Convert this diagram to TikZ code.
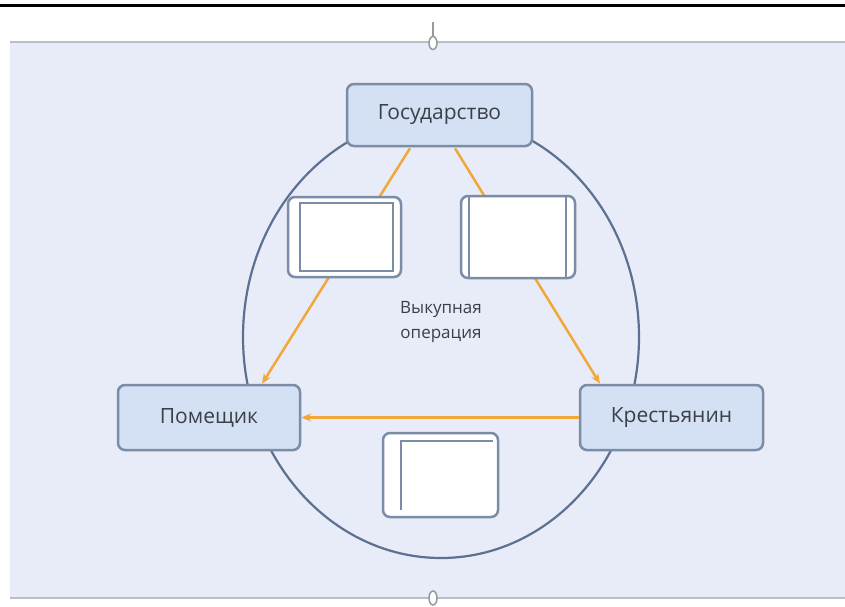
\documentclass[tikz,border=0pt]{standalone}
\usepackage{fontspec}
\setmainfont{Open Sans}
\usetikzlibrary{arrows.meta,shapes.geometric,calc}
\definecolor{bg}{HTML}{E7ECF8}
\definecolor{boxfill}{HTML}{D4E1F4}
\definecolor{boxline}{HTML}{7A8CA6}
\definecolor{ellline}{HTML}{5C7191}
\definecolor{arrcol}{HTML}{F0A83A}
\definecolor{panelline}{HTML}{B9BDC6}
\definecolor{txt}{HTML}{3A3F48}
\tikzset{
  mainbox/.style={draw=boxline, line width=2.5pt, fill=boxfill, rounded corners=7pt,
    text=txt, font=\fontsize{21}{24}\selectfont},
  smallbox/.style={draw=boxline, line width=2.5pt, fill=white, rounded corners=7pt},
  innerline/.style={draw=boxline, line width=2pt},
  arr/.style={draw=arrcol, line width=2.5pt, -{Stealth[length=10pt,width=8pt]}},
  handle/.style={draw=gray!80, line width=1.5pt, fill=white, ellipse, inner sep=0pt}
}
\begin{document}
\begin{tikzpicture}[x=1pt,y=-1pt]
\useasboundingbox (0,0) rectangle (845,606);
\fill[white] (0,0) rectangle (845,606);
\fill[bg] (10,42) rectangle (845,598);
\draw[line width=3pt] (0,5) -- (845,5);
\draw[panelline, line width=2.5pt] (10,42) -- (845,42);
\draw[panelline, line width=2.5pt] (10,598) -- (845,598);

% ellipse
\node[ellipse, draw=ellline, line width=2.2pt, minimum width=396pt, minimum height=442pt, inner sep=0pt] (ell) at (441,337) {};

% main boxes
\node[mainbox, minimum width=185pt, minimum height=62pt] (gos) at (439.5,115) {Государство};
\node[mainbox, minimum width=182pt, minimum height=65pt] (pom) at (209,417.5) {Помещик};
\node[mainbox, minimum width=183pt, minimum height=65pt] (kr) at (671.5,417.5) {Крестьянин};

% arrows
\coordinate (g1) at ($(gos.south)+(-29.5,1)$);
\coordinate (g2) at ($(gos.south)+(15.5,1)$);
\coordinate (p1) at ($(pom.north)+(53,0)$);
\coordinate (k1) at ($(kr.north)+(-71.5,0)$);
\draw[arr] (g1) -- (p1);
\draw[arr] (g2) -- (k1);
\draw[arr] (kr.west) -- (pom.east);

% small boxes
\node[smallbox, minimum width=113pt, minimum height=80pt] (sb1) at (344.5,237) {};
\draw[innerline] ($(sb1.north west)+(13,7)$) rectangle ($(sb1.south east)+(-9,-7)$);
\node[smallbox, minimum width=114pt, minimum height=82pt] (sb2) at (518,237) {};
\draw[innerline] ($(sb2.north west)+(9,2)$) -- ($(sb2.south west)+(9,-2)$);
\draw[innerline] ($(sb2.north east)+(-10,2)$) -- ($(sb2.south east)+(-10,-2)$);
\node[smallbox, minimum width=115pt, minimum height=84pt] (sb3) at (440.5,475) {};
\draw[innerline] ($(sb3.south west)+(19,-8)$) -- ($(sb3.north west)+(19,9)$) -- ($(sb3.north east)+(-6,9)$);

% center text
\node[text=txt, font=\fontsize{17}{25}\selectfont, align=center] (lab) at (441,322) {Выкупная\\операция};

% handles
\draw[gray!80, line width=1.2pt] (433,22) -- (433,36);
\node[handle, minimum width=8pt, minimum height=13pt] (h1) at (433,43) {};
\node[handle, minimum width=8pt, minimum height=14pt] (h2) at (433,598) {};
\end{tikzpicture}
\end{document}
